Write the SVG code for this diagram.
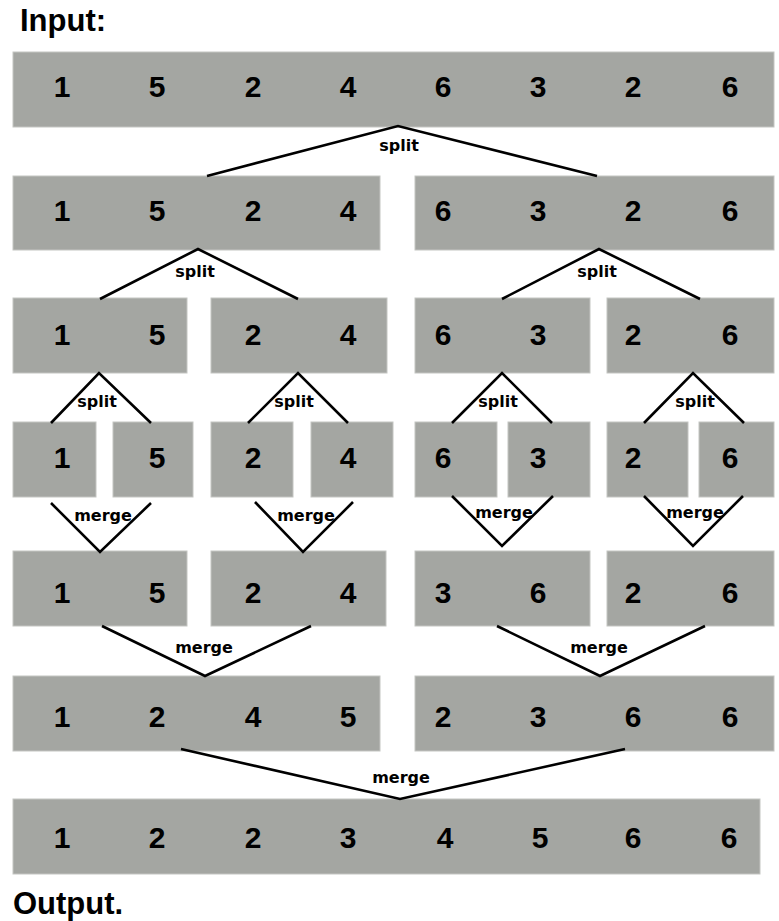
<svg xmlns="http://www.w3.org/2000/svg" width="779" height="921" viewBox="0 0 779 921">
<style>
.box{fill:#a4a6a2;stroke:#c4c5c2;stroke-width:1}
.d{font-family:"Liberation Sans",Arial,sans-serif;font-weight:bold;font-size:30px;fill:#000;text-anchor:middle}
.lbl{font-family:"DejaVu Sans",sans-serif;font-weight:bold;font-size:16px;fill:#000;text-anchor:middle}
.ttl{font-family:"Liberation Sans",Arial,sans-serif;font-weight:bold;font-size:31px;fill:#000}
.ln{fill:none;stroke:#000;stroke-width:2.6;stroke-linejoin:miter}
</style>
<rect width="779" height="921" fill="#fff"/>
<text class="ttl" x="20" y="31">Input:</text>
<text class="ttl" x="13" y="914">Output.</text>

<g id="r1">
<rect class="box" x="13" y="52" width="761" height="75"/>
<text class="d" y="97"><tspan x="62">1</tspan><tspan x="157">5</tspan><tspan x="253">2</tspan><tspan x="348">4</tspan><tspan x="443">6</tspan><tspan x="538">3</tspan><tspan x="633">2</tspan><tspan x="730">6</tspan></text>
</g>

<g id="r2a"><rect class="box" x="13" y="176" width="367" height="74"/>
<text class="d" y="221"><tspan x="62">1</tspan><tspan x="157">5</tspan><tspan x="253">2</tspan><tspan x="348">4</tspan></text></g>
<g id="r2b"><rect class="box" x="415" y="176" width="359" height="74"/>
<text class="d" y="221"><tspan x="443">6</tspan><tspan x="538">3</tspan><tspan x="633">2</tspan><tspan x="730">6</tspan></text></g>

<g id="r3a"><rect class="box" x="13" y="298" width="174" height="75"/>
<text class="d" y="345"><tspan x="62">1</tspan><tspan x="157">5</tspan></text></g>
<g id="r3b"><rect class="box" x="211" y="298" width="176" height="75"/>
<text class="d" y="345"><tspan x="253">2</tspan><tspan x="348">4</tspan></text></g>
<g id="r3c"><rect class="box" x="415" y="298" width="175" height="75"/>
<text class="d" y="345"><tspan x="443">6</tspan><tspan x="538">3</tspan></text></g>
<g id="r3d"><rect class="box" x="607" y="298" width="167" height="75"/>
<text class="d" y="345"><tspan x="633">2</tspan><tspan x="730">6</tspan></text></g>

<g id="r4a"><rect class="box" x="13" y="422" width="83" height="75"/><text class="d" x="62" y="468">1</text></g>
<g id="r4b"><rect class="box" x="113" y="422" width="80" height="75"/><text class="d" x="157" y="468">5</text></g>
<g id="r4c"><rect class="box" x="211" y="422" width="82" height="75"/><text class="d" x="253" y="468">2</text></g>
<g id="r4d"><rect class="box" x="311" y="422" width="82" height="75"/><text class="d" x="348" y="468">4</text></g>
<g id="r4e"><rect class="box" x="415" y="422" width="82" height="75"/><text class="d" x="443" y="468">6</text></g>
<g id="r4f"><rect class="box" x="508" y="422" width="82" height="75"/><text class="d" x="538" y="468">3</text></g>
<g id="r4g"><rect class="box" x="607" y="422" width="81" height="75"/><text class="d" x="633" y="468">2</text></g>
<g id="r4h"><rect class="box" x="699" y="422" width="75" height="75"/><text class="d" x="730" y="468">6</text></g>

<g id="r5a"><rect class="box" x="13" y="551" width="174" height="75"/>
<text class="d" y="603"><tspan x="62">1</tspan><tspan x="157">5</tspan></text></g>
<g id="r5b"><rect class="box" x="211" y="551" width="175" height="75"/>
<text class="d" y="603"><tspan x="253">2</tspan><tspan x="348">4</tspan></text></g>
<g id="r5c"><rect class="box" x="415" y="551" width="175" height="75"/>
<text class="d" y="603"><tspan x="443">3</tspan><tspan x="538">6</tspan></text></g>
<g id="r5d"><rect class="box" x="607" y="551" width="167" height="75"/>
<text class="d" y="603"><tspan x="633">2</tspan><tspan x="730">6</tspan></text></g>

<g id="r6a"><rect class="box" x="13" y="676" width="367" height="75"/>
<text class="d" y="727"><tspan x="62">1</tspan><tspan x="157">2</tspan><tspan x="253">4</tspan><tspan x="348">5</tspan></text></g>
<g id="r6b"><rect class="box" x="415" y="676" width="359" height="75"/>
<text class="d" y="727"><tspan x="443">2</tspan><tspan x="538">3</tspan><tspan x="633">6</tspan><tspan x="730">6</tspan></text></g>

<g id="r7"><rect class="box" x="13" y="799" width="747" height="75"/>
<text class="d" y="848"><tspan x="62">1</tspan><tspan x="157">2</tspan><tspan x="253">2</tspan><tspan x="348">3</tspan><tspan x="445">4</tspan><tspan x="540">5</tspan><tspan x="633">6</tspan><tspan x="729">6</tspan></text></g>

<g id="connectors">
<polyline class="ln" points="207,176 398,126 597,176"/>
<polyline class="ln" points="100,299 198,249 298,299"/>
<polyline class="ln" points="502,299 599,249 700,299"/>
<polyline class="ln" points="51,423 99,373 151,423"/>
<polyline class="ln" points="248,423 298,373 348,423"/>
<polyline class="ln" points="452,423 502,373 552,423"/>
<polyline class="ln" points="644,423 693,373 744,423"/>
<polyline class="ln" points="51,503 100,552 151,503"/>
<polyline class="ln" points="255,502 303,552 353,502"/>
<polyline class="ln" points="452,496 502,546 553,496"/>
<polyline class="ln" points="644,496 693,546 743,496"/>
<polyline class="ln" points="102,626 205,676 311,626"/>
<polyline class="ln" points="497,626 600,676 705,626"/>
<polyline class="ln" points="181,749 400,799 625,749"/>
</g>

<g id="labels">
<text class="lbl" x="399" y="151">split</text>
<text class="lbl" x="195" y="277">split</text>
<text class="lbl" x="597" y="277">split</text>
<text class="lbl" x="97" y="407">split</text>
<text class="lbl" x="294" y="407">split</text>
<text class="lbl" x="498" y="407">split</text>
<text class="lbl" x="695" y="407">split</text>
<text class="lbl" x="103" y="521">merge</text>
<text class="lbl" x="306" y="521">merge</text>
<text class="lbl" x="504" y="518">merge</text>
<text class="lbl" x="695" y="518">merge</text>
<text class="lbl" x="204" y="653">merge</text>
<text class="lbl" x="599" y="653">merge</text>
<text class="lbl" x="401" y="783">merge</text>
</g>
</svg>
